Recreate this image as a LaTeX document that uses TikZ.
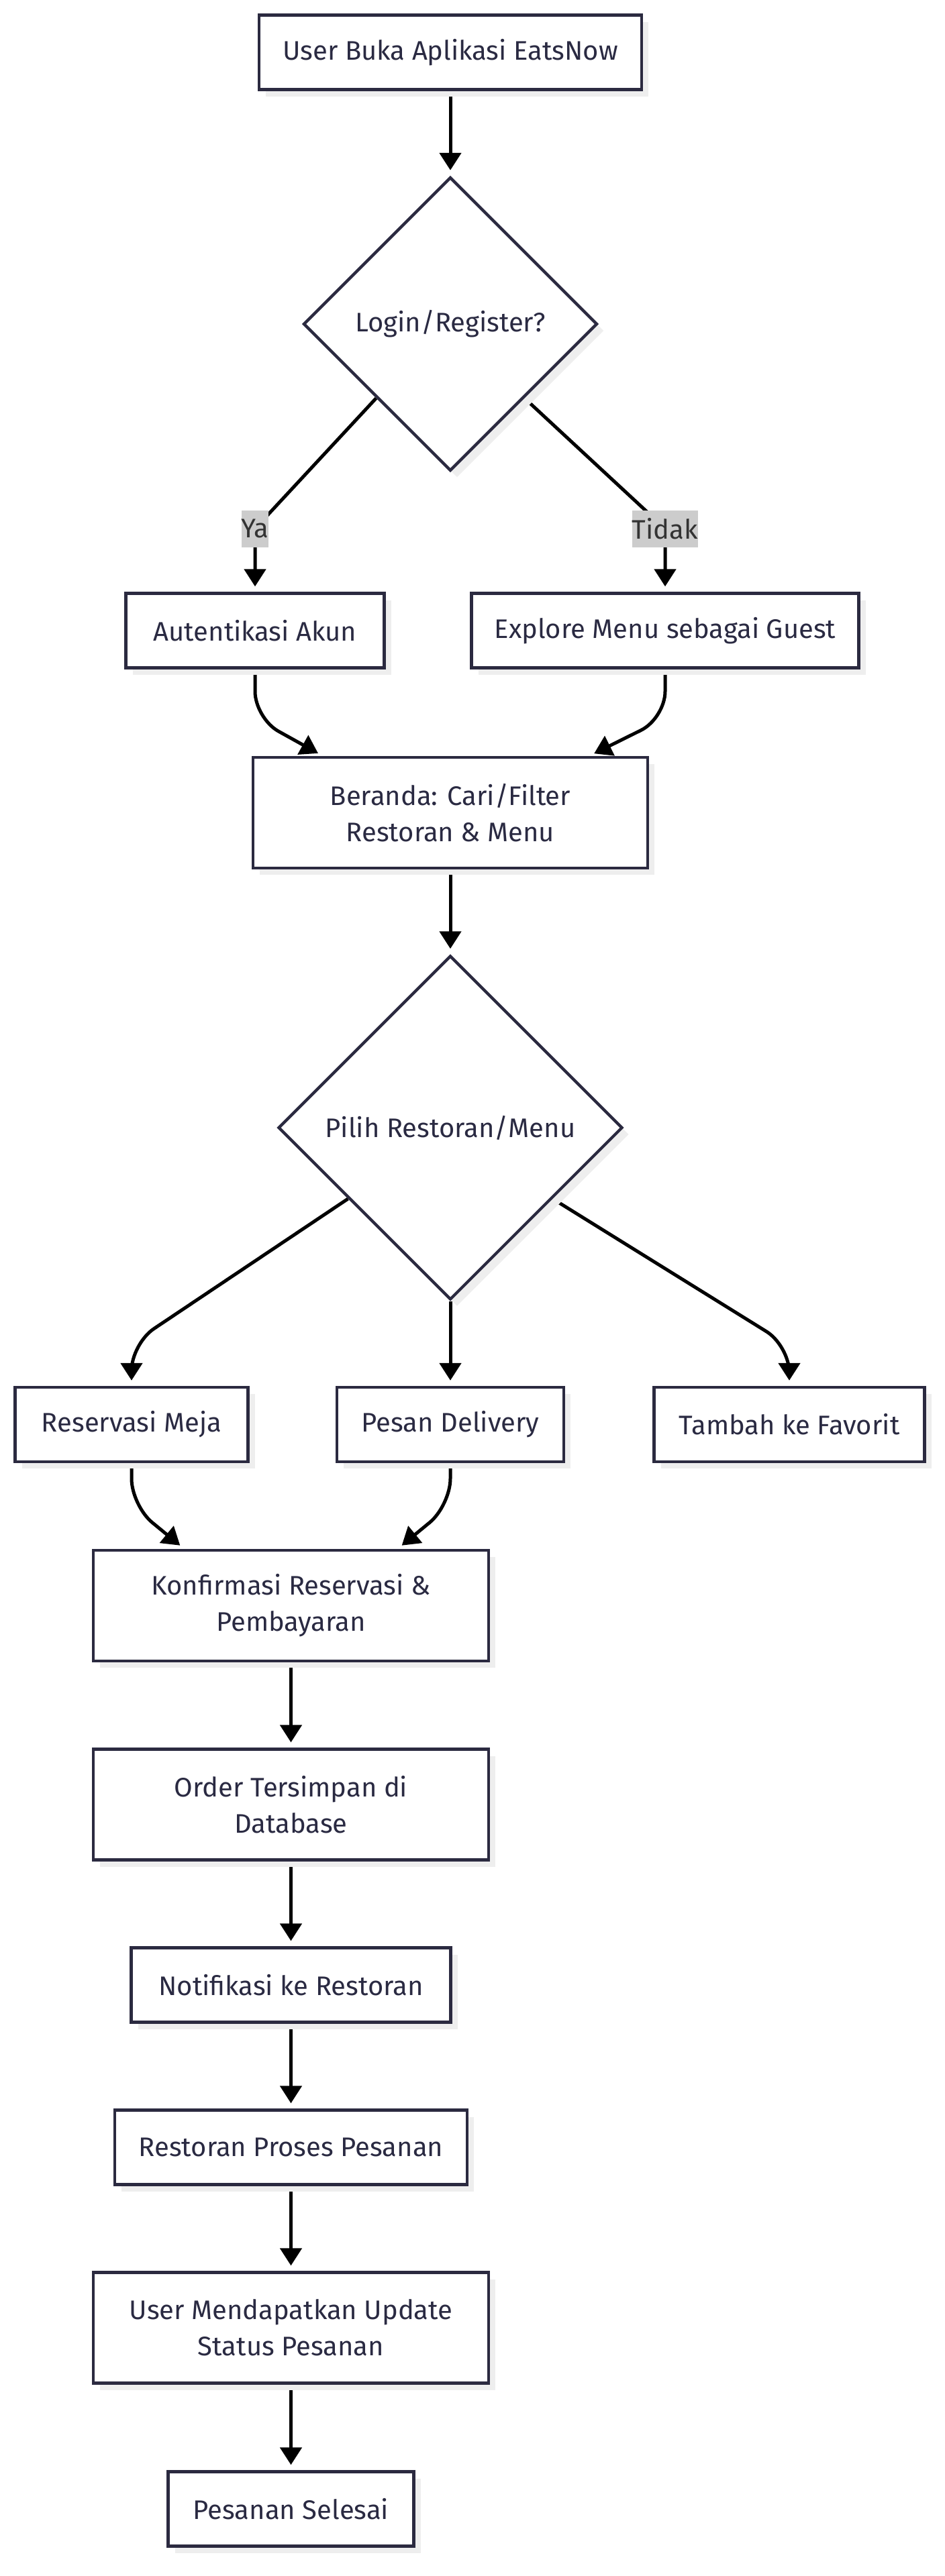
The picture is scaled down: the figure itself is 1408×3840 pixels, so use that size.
\documentclass[tikz,border=0pt]{standalone}
\usepackage{fontspec}
\setmainfont{Fira Sans}
\usetikzlibrary{arrows.meta,shapes.geometric,shadows,calc}
\definecolor{bordc}{HTML}{2B2A40}
\definecolor{txtc}{HTML}{2A2A42}
\definecolor{shadc}{HTML}{EEEEEE}
\definecolor{lblbg}{HTML}{CCCCCC}
\definecolor{lbltxt}{HTML}{333333}
\pgfdeclarelayer{bg}
\pgfdeclarelayer{edges}
\pgfsetlayers{bg,edges,main}
\tikzset{
  nodefont/.style={font=\fontsize{20pt}{27pt}\selectfont},
  shad/.style={drop shadow={shadow xshift=5pt, shadow yshift=-5pt, fill=shadc, opacity=1}},
  nbox/.style={rectangle, draw=bordc, line width=2.2pt, fill=white, text=txtc, nodefont,
    align=center, inner sep=0pt, minimum height=55.5pt, shad},
  tallbox/.style={nbox, minimum height=82.5pt},
  dia/.style={diamond, aspect=1, draw=bordc, line width=2.2pt, fill=white, text=txtc, nodefont,
    inner sep=0pt, shad},
  elabel/.style={fill=lblbg, text=lbltxt, nodefont, inner xsep=0pt, inner ysep=0pt,
    minimum height=27.5pt},
  arr/.style={draw=black, line width=2.5pt, -{Triangle[length=13pt,width=16pt]}, shorten >=4pt},
}
\begin{document}
\begin{tikzpicture}[x=0.5pt, y=-0.5pt]
\begin{pgfonlayer}{bg}
  \fill[white] (0,0) rectangle (1408,3840);
\end{pgfonlayer}
\useasboundingbox (0,0) rectangle (1408,3840);

% nodes
\node[nbox, minimum width=285pt] (start) at (671,78) {User Buka Aplikasi EatsNow};
\node[dia, minimum width=219pt, minimum height=219pt] (d1) at (671,483) {Login/Register?};
\node[nbox, minimum width=192.5pt] (auth) at (380,940) {Autentikasi Akun};
\node[nbox, minimum width=288.5pt] (explore) at (991,940) {Explore Menu sebagai Guest};
\node[tallbox, minimum width=294pt] (beranda) at (671,1211.5) {Beranda: Cari/Filter\\Restoran \& Menu};
\node[dia, minimum width=256.5pt, minimum height=256.5pt] (d2) at (671,1681) {Pilih Restoran/Menu};
\node[nbox, minimum width=173.5pt] (res) at (196,2123.5) {Reservasi Meja};
\node[nbox, minimum width=169pt] (pesan) at (671,2123.5) {Pesan Delivery};
\node[nbox, minimum width=201.5pt] (fav) at (1176,2123.5) {Tambah ke Favorit};
\node[tallbox, minimum width=294.5pt] (konf) at (433.5,2393.5) {Konfirmasi Reservasi \&\\Pembayaran};
\node[tallbox, minimum width=294.5pt] (order) at (433.5,2690) {Order Tersimpan di\\Database};
\node[nbox, minimum width=238pt] (notif) at (433.5,2959) {Notifikasi ke Restoran};
\node[nbox, minimum width=262.5pt] (proses) at (433.5,3201) {Restoran Proses Pesanan};
\node[tallbox, minimum width=294.5pt] (update) at (433.5,3470) {User Mendapatkan Update\\Status Pesanan};
\node[nbox, minimum width=183pt] (selesai) at (433.5,3740) {Pesanan Selesai};

% edge labels
\node[elabel] (ya) at (380,788) {Ya};
\node[elabel] (tidak) at (991,788) {Tidak};

% edges
\begin{pgfonlayer}{edges}
  \draw[arr] (start) -- (d1);
  \draw[arr, rounded corners=12pt] (d1.south west) -- (ya.center) -- (auth.north);
  \draw[arr, rounded corners=12pt] (d1.south east) -- (tidak.center) -- (explore.north);
  \draw[arr, rounded corners=20pt] (auth.south) -- ++(0,73) -- ([xshift=-95pt]beranda.north);
  \draw[arr, rounded corners=20pt] (explore.south) -- ++(0,73) -- ([xshift=103.5pt]beranda.north);
  \draw[arr] (beranda) -- (d2);
  \draw[arr, rounded corners=20pt] ($(d2.west)!0.41!(d2.south)$) -- (196,2003) -- (res.north);
  \draw[arr] (d2.south) -- (pesan.north);
  \draw[arr, rounded corners=20pt] ($(d2.east)!0.41!(d2.south)$) -- (1176,2006) -- (fav.north);
  \draw[arr, rounded corners=20pt] (res.south) -- ++(0,63) -- ([xshift=-79.5pt]konf.north);
  \draw[arr, rounded corners=20pt] (pesan.south) -- ++(0,63) -- ([xshift=79.5pt]konf.north);
  \draw[arr] (konf) -- (order);
  \draw[arr] (order) -- (notif);
  \draw[arr] (notif) -- (proses);
  \draw[arr] (proses) -- (update);
  \draw[arr] (update) -- (selesai);
\end{pgfonlayer}
\end{tikzpicture}
\end{document}
